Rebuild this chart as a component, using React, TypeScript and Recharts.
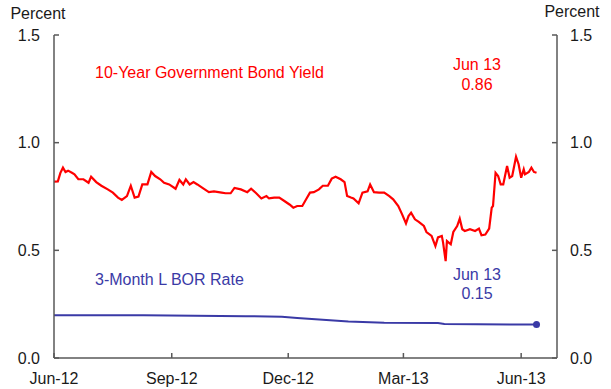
import { LineChart, Line, XAxis, YAxis } from "recharts";

// days counted from 1 Jun 2012
const bondDays = [
  0, 3, 5, 7, 9, 11, 14, 16, 19, 23, 27, 29, 33, 37, 42, 46, 50, 53, 57, 60, 63, 66, 69, 73, 76, 79,
  83, 86, 90, 95, 98, 101, 103, 106, 109, 112, 116, 121, 125, 131, 134, 138, 141, 146, 151, 154, 158,
  162, 166, 168, 172, 176, 180, 184, 187, 190, 194, 197, 200, 203, 207, 210, 214, 217, 220, 224, 227,
  229, 232, 234, 238, 241, 245, 247, 250, 254, 258, 262, 265, 269, 272, 275, 277, 279, 282, 285, 289,
  291, 295, 298, 300, 303, 304, 306, 307, 310, 312, 315, 317, 319, 321, 325, 329, 332, 334, 337, 340,
  342, 343, 345, 347, 349, 351, 354, 356, 358, 361, 363, 365, 367, 368, 371, 373, 375, 377,
];
const bondYield = [
  0.819, 0.82, 0.86, 0.884, 0.864, 0.87, 0.86, 0.853, 0.83, 0.83, 0.814, 0.842, 0.817, 0.8, 0.783,
  0.768, 0.745, 0.734, 0.752, 0.8, 0.745, 0.75, 0.806, 0.806, 0.864, 0.845, 0.83, 0.814, 0.806, 0.786,
  0.827, 0.806, 0.83, 0.806, 0.817, 0.806, 0.79, 0.77, 0.774, 0.768, 0.765, 0.765, 0.79, 0.783, 0.77,
  0.786, 0.765, 0.741, 0.752, 0.741, 0.745, 0.745, 0.729, 0.713, 0.698, 0.706, 0.706, 0.737, 0.768,
  0.77, 0.783, 0.8, 0.8, 0.833, 0.842, 0.83, 0.817, 0.752, 0.745, 0.741, 0.718, 0.768, 0.774, 0.806,
  0.77, 0.768, 0.768, 0.752, 0.737, 0.706, 0.667, 0.625, 0.659, 0.675, 0.644, 0.632, 0.613, 0.585,
  0.567, 0.52, 0.56, 0.567, 0.536, 0.45, 0.543, 0.528, 0.585, 0.613, 0.647, 0.598, 0.59, 0.598, 0.59,
  0.601, 0.57, 0.573, 0.601, 0.698, 0.706, 0.86, 0.845, 0.806, 0.806, 0.892, 0.837, 0.845, 0.935, 0.9,
  0.837, 0.876, 0.853, 0.864, 0.884, 0.864, 0.86,
];

const liborDays = [0, 70, 110, 150, 178, 190, 230, 258, 300, 305, 377];
const liborRate = [0.198, 0.198, 0.196, 0.194, 0.192, 0.186, 0.169, 0.164, 0.163, 0.158, 0.155];

const xTicks = [0, 92, 183, 273, 365];
const xTickLabels = ["Jun-12", "Sep-12", "Dec-12", "Mar-13", "Jun-13"];
const yTicks = [0, 0.5, 1, 1.5];

const bondData = bondDays.map((d, i) => ({ day: d, value: bondYield[i] }));
const liborData = liborDays.map((d, i) => ({ day: d, value: liborRate[i] }));

const RED = "#ff0000";
const BLUE = "#3a3aa6";
const AXIS = "#595959";
const FONT = "'Liberation Sans', Arial, sans-serif";

const LeftTick = ({ x, y, payload }: any) => (
  <text x={x} y={y} dy="0.35em" textAnchor="end" fontSize={16} fill="#1a1a1a" fontFamily={FONT}>
    {payload.value.toFixed(1)}
  </text>
);

const RightTick = ({ x, y, payload }: any) => (
  <text x={x} y={y} dy="0.35em" textAnchor="start" fontSize={16} fill="#1a1a1a" fontFamily={FONT}>
    {payload.value.toFixed(1)}
  </text>
);

const BottomTick = ({ x, y, payload }: any) => (
  <text x={x} y={y} dy="0.35em" textAnchor="middle" fontSize={16} fill="#1a1a1a" fontFamily={FONT}>
    {xTickLabels[xTicks.indexOf(payload.value)]}
  </text>
);

const EndDot = (props: any) => {
  const { cx, cy, index } = props;
  if (index !== liborData.length - 1) return <g key={index} />;
  return <circle key={index} cx={cx} cy={cy} r={3.5} fill={BLUE} />;
};

export default function App() {
  return (
    <div style={{ position: "absolute", left: 0, top: 0, width: 611, height: 389, background: "#fff" }}>
      <LineChart width={611} height={389} margin={{ top: 35, right: 0, bottom: 0, left: 0 }}>
        <XAxis
          xAxisId="bottom"
          dataKey="day"
          type="number"
          domain={[0, 393]}
          ticks={xTicks}
          height={31}
          tick={<BottomTick />}
          tickSize={-5}
          tickMargin={25}
          stroke={AXIS}
          strokeWidth={1.5}
          allowDataOverflow
        />
        <XAxis
          xAxisId="top"
          orientation="top"
          dataKey="day"
          type="number"
          domain={[0, 393]}
          height={0}
          tick={false}
          tickLine={false}
          stroke={AXIS}
          strokeWidth={1.5}
          allowDataOverflow
        />
        <YAxis
          yAxisId="left"
          domain={[0, 1.5]}
          ticks={yTicks}
          width={54}
          tick={<LeftTick />}
          tickSize={-5}
          tickMargin={19}
          stroke={AXIS}
          strokeWidth={1.5}
          allowDataOverflow
        />
        <YAxis
          yAxisId="right"
          orientation="right"
          domain={[0, 1.5]}
          ticks={yTicks}
          width={54}
          tick={<RightTick />}
          tickSize={-5}
          tickMargin={18}
          stroke={AXIS}
          strokeWidth={1.5}
          allowDataOverflow
        />
        {/* invisible copy so the top and right axes get drawn */}
        <Line
          xAxisId="top"
          yAxisId="right"
          data={bondData}
          dataKey="value"
          stroke="none"
          dot={false}
          activeDot={false}
          isAnimationActive={false}
        />
        <Line
          xAxisId="bottom"
          yAxisId="left"
          data={bondData}
          dataKey="value"
          type="linear"
          stroke={RED}
          strokeWidth={2.2}
          dot={false}
          isAnimationActive={false}
        />
        <Line
          xAxisId="bottom"
          yAxisId="left"
          data={liborData}
          dataKey="value"
          type="linear"
          stroke={BLUE}
          strokeWidth={2}
          dot={<EndDot />}
          isAnimationActive={false}
        />
        <text x={38} y={19} textAnchor="middle" fontSize={16} fill="#1a1a1a" fontFamily={FONT}>Percent</text>
        <text x={572} y={17} textAnchor="middle" fontSize={16} fill="#1a1a1a" fontFamily={FONT}>Percent</text>
        <text x={95} y={78} fontSize={16} fill={RED} fontFamily={FONT}>10-Year Government Bond Yield</text>
        <text x={477} y={70} textAnchor="middle" fontSize={16} fill={RED} fontFamily={FONT}>Jun 13</text>
        <text x={477} y={90} textAnchor="middle" fontSize={16} fill={RED} fontFamily={FONT}>0.86</text>
        <text x={95} y={285} fontSize={16} fill={BLUE} fontFamily={FONT}>3-Month L BOR Rate</text>
        <text x={477} y={280} textAnchor="middle" fontSize={16} fill={BLUE} fontFamily={FONT}>Jun 13</text>
        <text x={477} y={299} textAnchor="middle" fontSize={16} fill={BLUE} fontFamily={FONT}>0.15</text>
      </LineChart>
    </div>
  );
}
